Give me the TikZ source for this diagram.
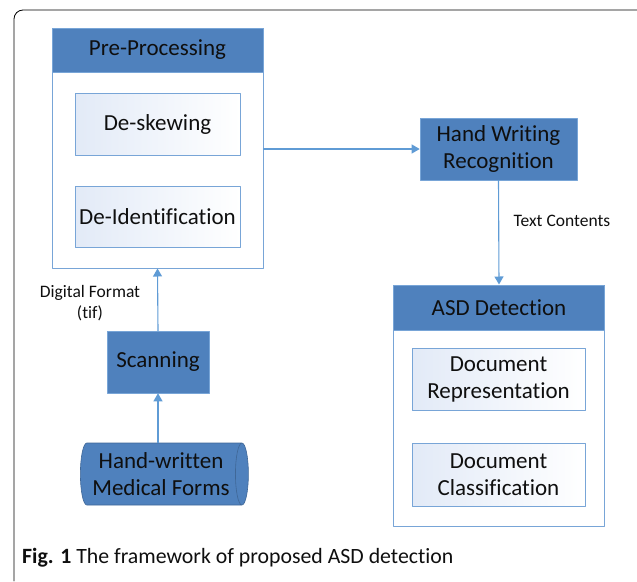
\documentclass[tikz,border=0pt]{standalone}
\usepackage{fontspec}
\setmainfont{Carlito}[Ligatures=NoCommon]
\usetikzlibrary{arrows.meta,shapes.geometric}

\definecolor{hdrblue}{RGB}{79,129,189}
\definecolor{lineblue}{RGB}{120,165,215}
\definecolor{arrowblue}{RGB}{95,155,213}
\definecolor{tintblue}{RGB}{226,234,247}
\definecolor{txtdark}{RGB}{15,15,15}

\begin{document}
\begin{tikzpicture}[x=1pt,y=-1pt,line cap=round,line join=round,
  group/.style={draw=lineblue,line width=1pt,fill=white,minimum width=211pt,inner sep=0pt},
  head/.style={draw=lineblue,line width=0.6pt,fill=hdrblue,text=txtdark,minimum width=211pt,font=\fontsize{23}{27}\selectfont},
  inbox/.style={draw=lineblue,line width=0.9pt,left color=tintblue,right color=white,text=txtdark,align=center,inner sep=2pt,font=\fontsize{23}{27}\selectfont},
  bluebox/.style={draw=lineblue,line width=0.6pt,fill=hdrblue,text=txtdark,align=center,inner sep=2pt,font=\fontsize{23}{27}\selectfont},
  conn/.style={draw=arrowblue,line width=1.1pt,-{Triangle[width=9pt,length=8pt]}},
  lbl/.style={text=txtdark,align=center,font=\fontsize{17.5}{21}\selectfont}]
  \useasboundingbox (0,0) rectangle (637,581);
  % outer frame
  \draw[line width=0.8pt,rounded corners=9pt] (14,581) -- (14,10) -- (637,10);

  % pre-processing group
  \node[group,minimum height=240pt] (pre) at (157.5,148) {};
  \node[head,minimum height=44pt,anchor=north] (prehead) at (pre.north) {Pre-Processing};
  \node[inbox,minimum width=165pt,minimum height=62pt] (deskew) at (157.5,124) {De-skewing};
  \node[inbox,minimum width=165pt,minimum height=61pt] (deid) at (157.5,216.5) {De-Identification};

  % recognition
  \node[bluebox,minimum width=157pt,minimum height=62pt] (hwr) at (498.5,149) {Hand Writing\\Recognition};

  % ASD detection group
  \node[group,minimum height=241pt] (asd) at (499,405.5) {};
  \node[head,minimum height=45pt,anchor=north] (asdhead) at (asd.north) {ASD Detection};
  \node[inbox,minimum width=173pt,minimum height=62pt] (docrep) at (498.5,379) {Document\\Representation};
  \node[inbox,minimum width=173pt,minimum height=63pt] (doccls) at (498.5,474.5) {Document\\Classification};

  % input side
  \node[bluebox,minimum width=102pt,minimum height=62pt] (scan) at (158,362) {Scanning};
  \node[cylinder,draw=hdrblue!80!black,line width=0.6pt,fill=hdrblue,text=txtdark,align=center,
        aspect=0.3,inner sep=0pt,minimum width=62pt,minimum height=168pt,shape border rotate=0,
        font=\fontsize{23}{27}\selectfont] (forms) at (161,474) {Hand-written\\Medical Forms};

  % connectors
  \draw[conn] (forms.north -| scan.south) -- (scan.south);
  \draw[conn] (scan.north) -- (pre.south);
  \draw[conn] (pre.east |- hwr.west) -- (hwr.west);
  \draw[conn] (hwr.south) -- (asd.north);

  \node[lbl] (fmt) at (90,303) {Digital Format\\(tif)};
  \node[lbl] (txtc) at (562,221) {Text Contents};

  % caption
  \node[anchor=west,inner sep=0pt,text=txtdark,font=\fontsize{21.8}{26}\selectfont] (cap) at (22,558)
    {\textbf{Fig. 1} The framework of proposed ASD detection};
\end{tikzpicture}
\end{document}
